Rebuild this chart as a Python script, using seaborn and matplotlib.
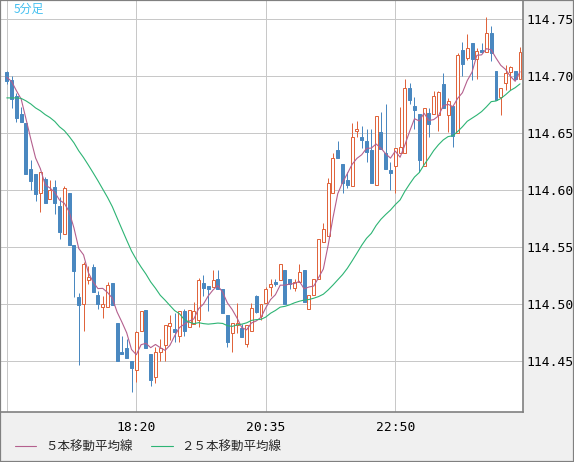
import numpy as np
import pandas as pd
import matplotlib
matplotlib.use("Agg")
import matplotlib.pyplot as plt
import seaborn as sns
from matplotlib.lines import Line2D
from matplotlib.patches import Rectangle

# ---- data (5-minute candles, 16:05 -> 01:00) ----
opens = [114.704, 114.697, 114.683, 114.667, 114.659, 114.619, 114.614, 114.598, 114.610, 114.592,
         114.603, 114.586, 114.562, 114.598, 114.552, 114.506, 114.500, 114.521, 114.533, 114.508,
         114.498, 114.498, 114.519, 114.484, 114.458, 114.462, 114.450, 114.442, 114.477, 114.495,
         114.456, 114.436, 114.458, 114.464, 114.481, 114.478, 114.472, 114.494, 114.480, 114.483,
         114.486, 114.519, 114.516, 114.515, 114.522, 114.513, 114.491, 114.475, 114.482, 114.479,
         114.465, 114.477, 114.507, 114.490, 114.501, 114.515, 114.520, 114.521, 114.530, 114.522,
         114.514, 114.520, 114.530, 114.496, 114.508, 114.522, 114.555, 114.560, 114.598, 114.635,
         114.623, 114.609, 114.604, 114.652, 114.647, 114.643, 114.635, 114.605, 114.651, 114.633,
         114.618, 114.621, 114.633, 114.633, 114.690, 114.674, 114.667, 114.621, 114.668, 114.667,
         114.666, 114.693, 114.666, 114.674, 114.650, 114.723, 114.716, 114.729, 114.715, 114.723,
         114.721, 114.738, 114.705, 114.682, 114.694, 114.704, 114.705, 114.698]
highs = [114.705, 114.700, 114.685, 114.673, 114.659, 114.627, 114.614, 114.616, 114.612, 114.609,
         114.609, 114.594, 114.604, 114.598, 114.552, 114.510, 114.537, 114.534, 114.535, 114.512,
         114.507, 114.520, 114.519, 114.484, 114.472, 114.470, 114.450, 114.477, 114.494, 114.495,
         114.456, 114.463, 114.470, 114.482, 114.491, 114.492, 114.494, 114.496, 114.495, 114.502,
         114.523, 114.526, 114.516, 114.530, 114.530, 114.513, 114.491, 114.484, 114.501, 114.483,
         114.482, 114.501, 114.508, 114.500, 114.515, 114.522, 114.522, 114.535, 114.530, 114.522,
         114.522, 114.535, 114.530, 114.508, 114.522, 114.557, 114.571, 114.611, 114.633, 114.643,
         114.623, 114.616, 114.659, 114.661, 114.656, 114.654, 114.654, 114.665, 114.669, 114.676,
         114.625, 114.637, 114.673, 114.698, 114.694, 114.682, 114.667, 114.672, 114.672, 114.687,
         114.687, 114.703, 114.681, 114.674, 114.720, 114.730, 114.737, 114.729, 114.725, 114.729,
         114.752, 114.744, 114.705, 114.690, 114.710, 114.709, 114.705, 114.726]
lows = [114.693, 114.672, 114.660, 114.660, 114.614, 114.600, 114.591, 114.581, 114.589, 114.592,
        114.579, 114.557, 114.562, 114.552, 114.506, 114.447, 114.477, 114.518, 114.511, 114.496,
        114.488, 114.498, 114.499, 114.450, 114.456, 114.453, 114.423, 114.432, 114.477, 114.462,
        114.428, 114.431, 114.450, 114.450, 114.469, 114.467, 114.467, 114.472, 114.480, 114.483,
        114.480, 114.507, 114.494, 114.515, 114.513, 114.492, 114.463, 114.458, 114.475, 114.471,
        114.463, 114.477, 114.492, 114.486, 114.501, 114.507, 114.516, 114.521, 114.500, 114.513,
        114.512, 114.520, 114.502, 114.496, 114.508, 114.522, 114.555, 114.560, 114.598, 114.628,
        114.598, 114.602, 114.604, 114.647, 114.637, 114.625, 114.606, 114.605, 114.636, 114.619,
        114.600, 114.598, 114.633, 114.633, 114.676, 114.654, 114.616, 114.621, 114.647, 114.667,
        114.652, 114.672, 114.651, 114.638, 114.650, 114.700, 114.714, 114.697, 114.698, 114.720,
        114.721, 114.713, 114.679, 114.666, 114.688, 114.688, 114.698, 114.698]
closes = [114.696, 114.680, 114.663, 114.660, 114.614, 114.608, 114.597, 114.616, 114.589, 114.600,
          114.589, 114.563, 114.602, 114.552, 114.529, 114.499, 114.535, 114.524, 114.511, 114.500,
          114.500, 114.517, 114.499, 114.450, 114.456, 114.453, 114.444, 114.476, 114.494, 114.462,
          114.434, 114.458, 114.462, 114.482, 114.484, 114.476, 114.494, 114.477, 114.495, 114.494,
          114.521, 114.514, 114.513, 114.521, 114.513, 114.492, 114.467, 114.484, 114.484, 114.471,
          114.482, 114.497, 114.493, 114.500, 114.513, 114.518, 114.518, 114.535, 114.500, 114.518,
          114.520, 114.528, 114.502, 114.508, 114.522, 114.557, 114.566, 114.606, 114.628, 114.628,
          114.606, 114.605, 114.647, 114.654, 114.644, 114.634, 114.606, 114.665, 114.636, 114.619,
          114.615, 114.637, 114.638, 114.690, 114.679, 114.670, 114.627, 114.672, 114.658, 114.683,
          114.686, 114.672, 114.678, 114.648, 114.719, 114.711, 114.725, 114.715, 114.722, 114.721,
          114.738, 114.720, 114.679, 114.690, 114.703, 114.708, 114.698, 114.721]
# closes before the visible window (needed to seed the moving averages)
prior_closes = [114.680, 114.663, 114.671, 114.668, 114.676, 114.684, 114.679, 114.672, 114.665, 114.674,
                114.681, 114.686, 114.678, 114.670, 114.675, 114.682, 114.688, 114.681, 114.674, 114.683,
                114.699, 114.703, 114.697, 114.701]

y_ticks = [114.45, 114.50, 114.55, 114.60, 114.65, 114.70, 114.75]
x_tick_pos = [0, 27, 54, 81]
x_tick_labels = ["", "18:20", "20:35", "22:50"]
title_text = "5分足"
legend_labels = ["５本移動平均線", "２５本移動平均線"]

# ---- styles ----
UP = "#e0643c"
DOWN = "#4a88c0"
MA5 = "#b4608e"
MA25 = "#2db474"
GRID = "#c8c8c8"
FRAME = "#808080"
BG = "#f0f0f0"

sns.set_theme(style="white")
plt.rcParams["font.family"] = ["DejaVu Sans Mono", "Noto Sans CJK JP"]

W, H = 574, 462
fig = plt.figure(figsize=(W / 100, H / 100), dpi=100)
fig.patch.set_facecolor(BG)
ax = fig.add_axes([0, 1 - 412.3 / H, 523.3 / W, 412.3 / H])
ax.set_facecolor("white")

n = len(closes)
idx = np.arange(n)
o = np.array(opens); h = np.array(highs); l = np.array(lows); c = np.array(closes)
up = c >= o
dn = ~up
px = 0.72

# wicks
ax.vlines(idx[up], l[up], h[up], color=UP, lw=px, zorder=2)
ax.vlines(idx[dn], l[dn], h[dn], color=DOWN, lw=px, zorder=2)
# bodies
bw = 0.62
ax.bar(idx[up], np.maximum(c[up] - o[up], 0.0004), bottom=o[up], width=bw,
       facecolor="white", edgecolor=UP, linewidth=px, zorder=3)
ax.bar(idx[dn], np.maximum(o[dn] - c[dn], 0.0004), bottom=c[dn], width=bw,
       facecolor=DOWN, edgecolor=DOWN, linewidth=px, zorder=3)

# moving averages
allc = pd.Series(prior_closes + closes)
ma5 = allc.rolling(5).mean().iloc[-n:].to_numpy()
ma25 = allc.rolling(25).mean().iloc[-n:].to_numpy()
df = pd.DataFrame({
    "idx": np.concatenate([idx, idx]),
    "value": np.concatenate([ma5, ma25]),
    "series": [legend_labels[0]] * n + [legend_labels[1]] * n,
})
sns.lineplot(data=df, x="idx", y="value", hue="series",
             palette={legend_labels[0]: MA5, legend_labels[1]: MA25},
             legend=False, linewidth=0.8, ax=ax, zorder=5)

# axes
ax.set_xlim(-1.418, 107.69)
ax.set_ylim(114.4053, 114.7669)
ax.set_xlabel("")
ax.set_ylabel("")
ax.yaxis.tick_right()
ax.set_yticks(y_ticks)
ax.set_yticklabels([f"{v:.2f}" for v in y_ticks])
ax.set_xticks(x_tick_pos)
ax.set_xticklabels(x_tick_labels)
ax.tick_params(axis="y", length=0, pad=2.5, labelsize=9.4, labelcolor="black")
ax.tick_params(axis="x", length=0, pad=6, labelsize=9.4, labelcolor="black")
ax.grid(True, color=GRID, lw=px, zorder=0)
ax.set_axisbelow(True)
for s in ax.spines.values():
    s.set_color(FRAME)
    s.set_linewidth(1.2)

# title label
fig.text(14 / W, 1 - 3 / H, title_text, ha="left", va="top", color="#44c0f0",
         fontsize=8.6, family=["Noto Sans CJK JP", "DejaVu Sans"])

# legend
handles = [Line2D([], [], color=MA5, lw=0.8), Line2D([], [], color=MA25, lw=0.8)]
leg = fig.legend(handles, legend_labels, loc="center left", bbox_to_anchor=(15 / W, 1 - 447 / H),
                 ncol=2, frameon=False, borderaxespad=0, borderpad=0, handlelength=1.7,
                 handletextpad=0.7, columnspacing=1.5,
                 prop={"family": ["Noto Sans CJK JP", "DejaVu Sans"], "size": 9})

# outer border
fig.patches.append(Rectangle((0, 0), 1, 1, transform=fig.transFigure, fill=False,
                             edgecolor=FRAME, linewidth=1.6, zorder=10))

fig.savefig("out.png", dpi=100, facecolor=BG)
